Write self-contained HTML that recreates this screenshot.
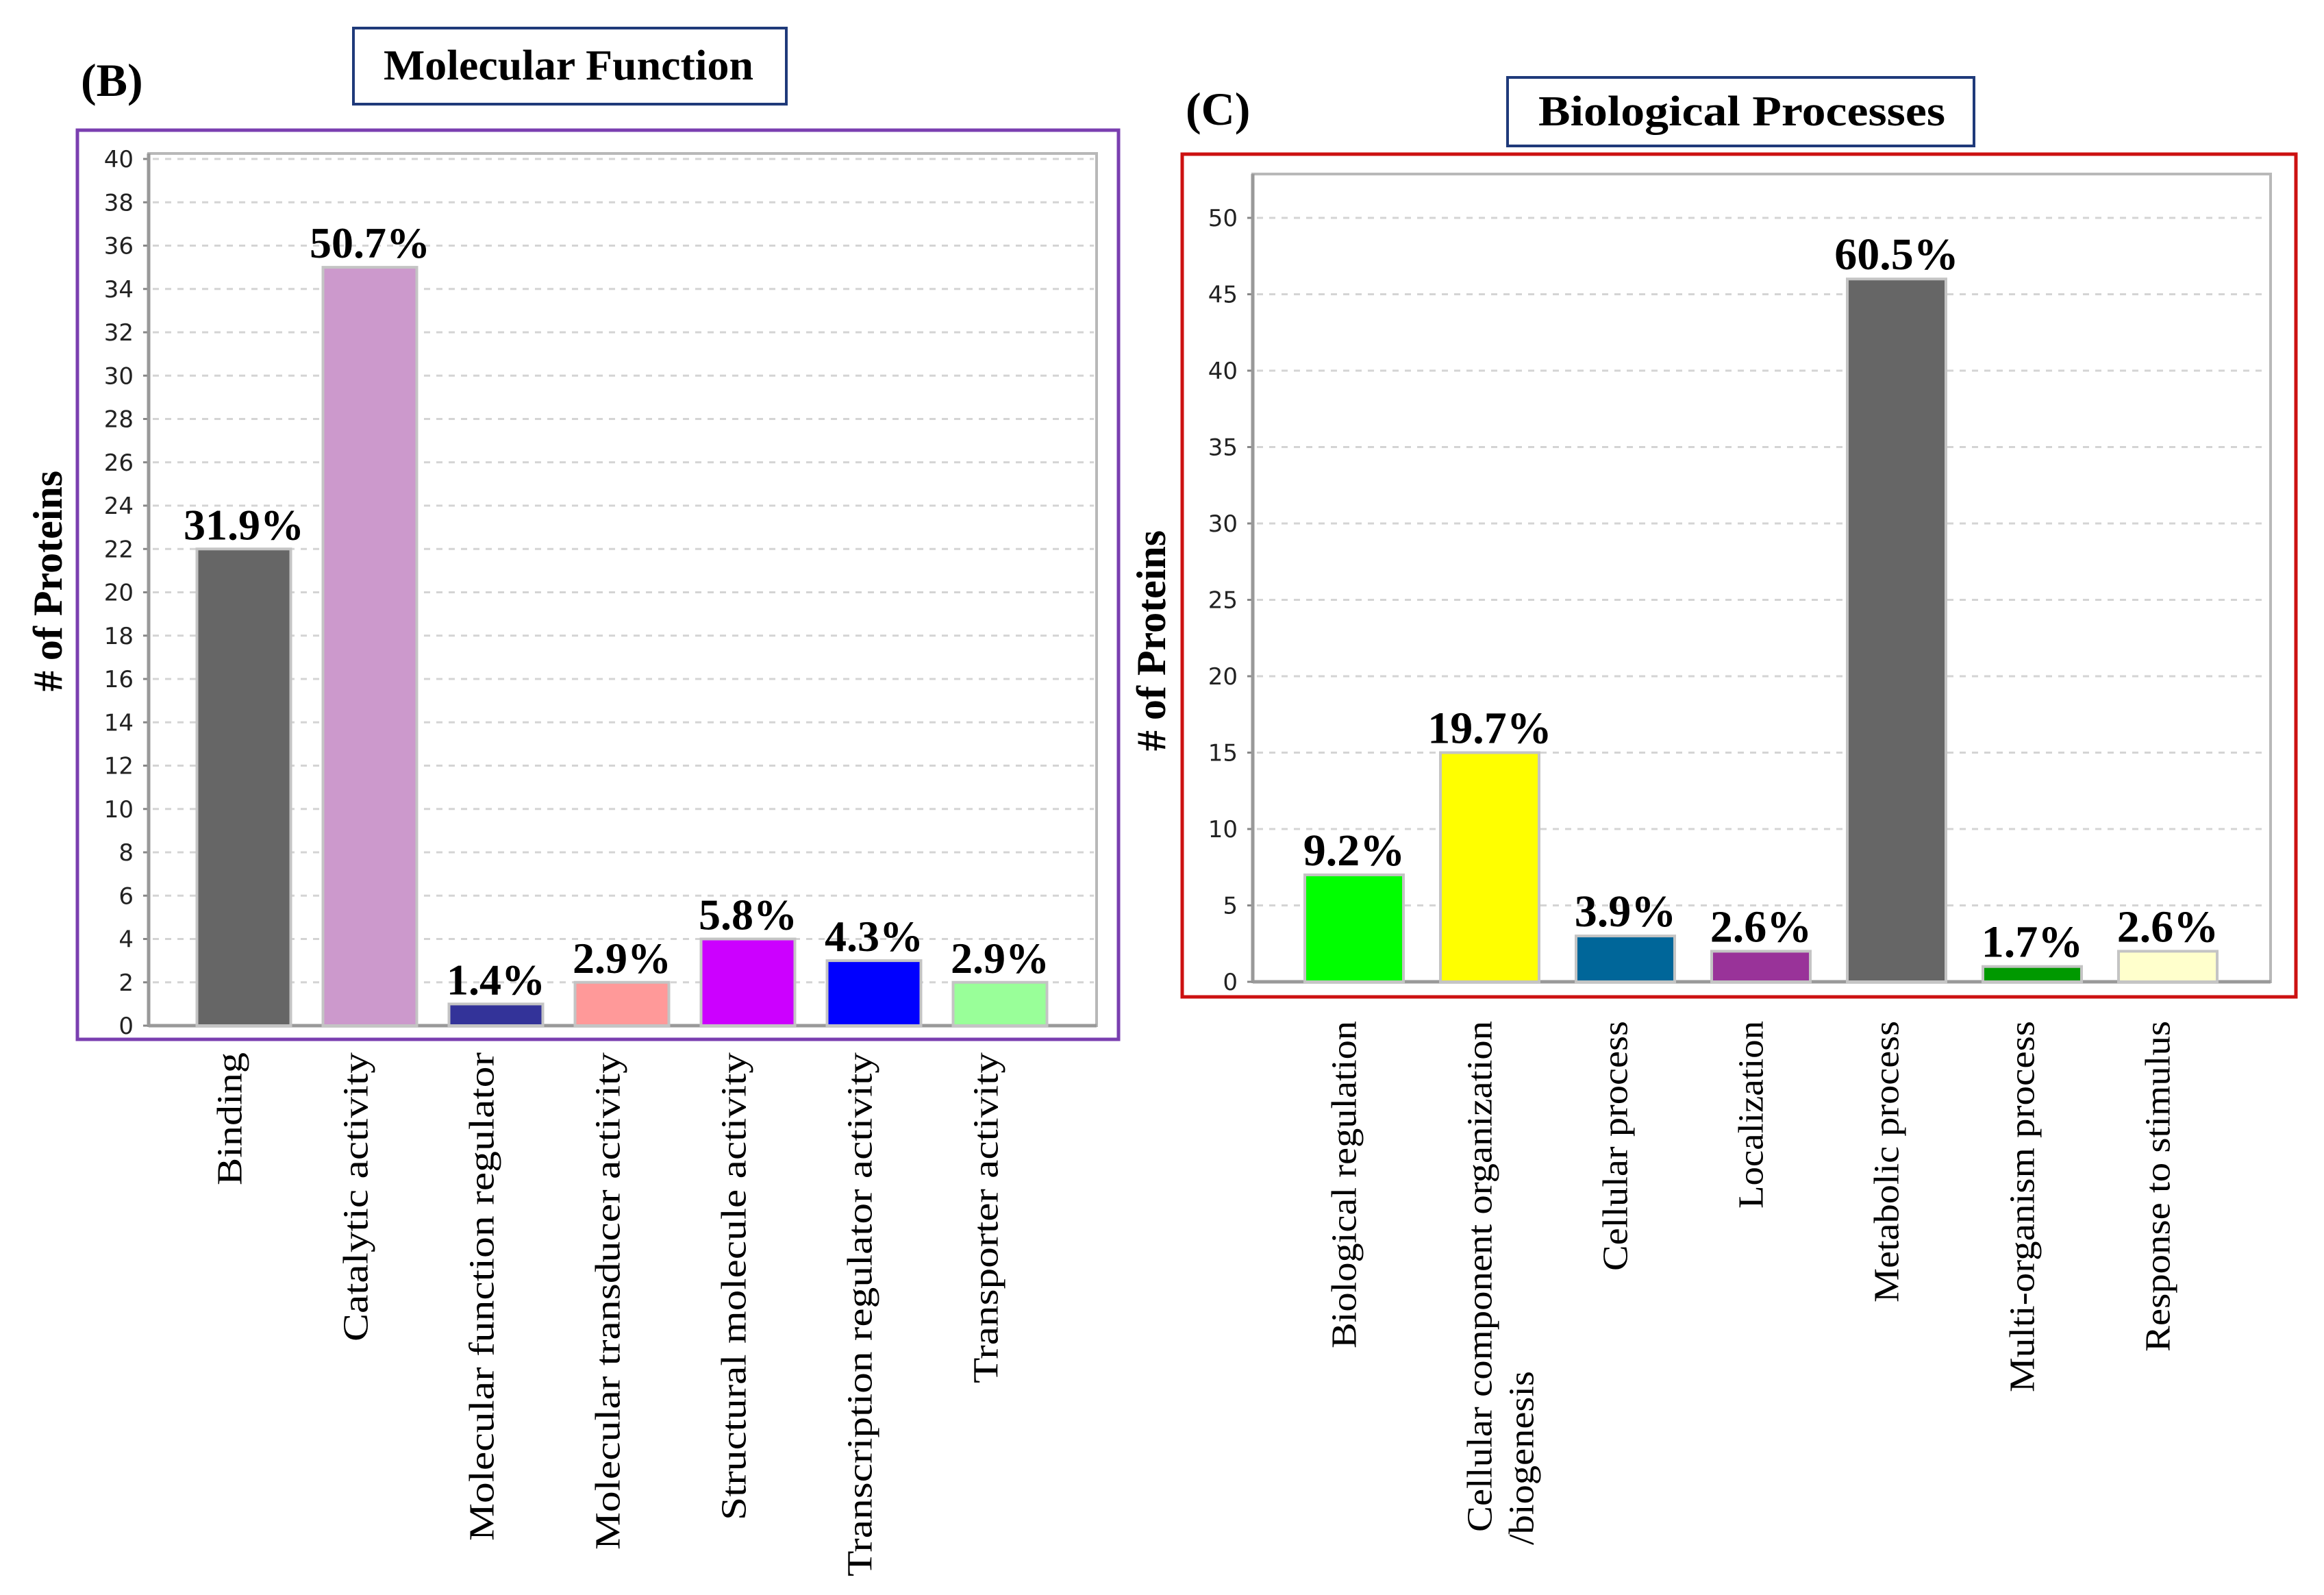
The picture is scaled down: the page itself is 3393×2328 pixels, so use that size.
<!DOCTYPE html>
<html><head><meta charset="utf-8"><style>
html,body{margin:0;padding:0;background:#fff;}
svg{display:block;}
</style></head><body>
<svg id="fig" width="3393" height="2328" viewBox="0 0 3393 2328" xmlns="http://www.w3.org/2000/svg">
  <rect x="0" y="0" width="3393" height="2328" fill="#fff"/>
  <!-- Panel B -->
  <text x="118" y="140" font-family="Liberation Serif, serif" font-weight="bold" font-size="68">(B)</text>
  <rect x="516" y="41" width="632" height="111" fill="#fff" stroke="#1f3a7a" stroke-width="4"/>
  <text x="830" y="116" text-anchor="middle" font-family="Liberation Serif, serif" font-weight="bold" font-size="62" textLength="540" lengthAdjust="spacingAndGlyphs">Molecular Function</text>
  <rect x="113" y="190" width="1520" height="1327" fill="none" stroke="#7a3fb0" stroke-width="5"/>
  <g id="chartB"></g>
  <!-- Panel C -->
  <text x="1731" y="182" font-family="Liberation Serif, serif" font-weight="bold" font-size="68">(C)</text>
  <rect x="2201" y="113" width="681" height="100" fill="#fff" stroke="#1f3a7a" stroke-width="4"/>
  <text x="2543" y="183" text-anchor="middle" font-family="Liberation Serif, serif" font-weight="bold" font-size="62" textLength="594" lengthAdjust="spacingAndGlyphs">Biological Processes</text>
  <rect x="1726" y="225" width="1626" height="1230" fill="none" stroke="#cc1111" stroke-width="5"/>
  <g id="chartC"></g>
</svg>
<script>
// ---- Panel B data ----
const catsB = ["Binding","Catalytic  activity","Molecular  function regulator","Molecular  transducer activity","Structural molecule  activity","Transcription  regulator activity","Transporter activity"];
const valsB = [22, 35, 1, 2, 4, 3, 2];
const pctB = ["31.9%","50.7%","1.4%","2.9%","5.8%","4.3%","2.9%"];
const colorsB = ["#666666","#cc99cc","#333399","#ff9999","#cc00ff","#0000ff","#99ff99"];
const ticksB = [0,2,4,6,8,10,12,14,16,18,20,22,24,26,28,30,32,34,36,38,40];
const labelLenB = [194, 422, 713, 726, 683, 765, 483];
// ---- Panel C data ----
const catsC = ["Biological  regulation","Cellular  component organization","Cellular  process","Localization","Metabolic  process","Multi-organism  process","Response to stimulus"];
const valsC = [7, 15, 3, 2, 46, 1, 2];
const pctC = ["9.2%","19.7%","3.9%","2.6%","60.5%","1.7%","2.6%"];
const colorsC = ["#00ff00","#ffff00","#006699","#993399","#666666","#009900","#ffffcc"];
const ticksC = [0,5,10,15,20,25,30,35,40,45,50];
const labelLenC = [478, 746, 365, 274, 411, 542, 483];

const NS = "http://www.w3.org/2000/svg";
function mk(parent, tag, attrs, text) {
  const el = document.createElementNS(NS, tag);
  for (const k in attrs) el.setAttribute(k, attrs[k]);
  if (text !== undefined) el.textContent = text;
  parent.appendChild(el);
  return el;
}

function drawChart(g, cfg) {
  const {left, right, top, bottom, firstCenter, step, barW,
         cats, vals, pcts, colors, ticks, lens, labelY, labelDx, tickFont, titleX, titleY, pctFont, prefix} = cfg;
  function yS(v){ return cfg.y0 - v * cfg.unit; }
  const xS = i => firstCenter + i * step;

  const frame = mk(g, "rect", {x:left, y:top, width:right-left, height:bottom-top, fill:"#fff", stroke:"#b8b8b8", "stroke-width":4});
  
  

  ticks.forEach(t => {
    const y = yS(t);
    if (t > 0) {
      const gl = mk(g, "line", {x1:left+6, x2:right-4, y1:y, y2:y, stroke:"#d4d4d4", "stroke-width":3, "stroke-dasharray":"9 9"});
      
      
    }
    const tk = mk(g, "line", {x1:left-8, x2:left, y1:y, y2:y, stroke:"#888", "stroke-width":3});
    
    
    const tl = mk(g, "text", {x:left-22, y:y+12, "text-anchor":"end", "font-family":"DejaVu Sans, Liberation Sans, sans-serif", "font-size":tickFont, fill:"#222"}, String(t));
    
    
  });
  const ax = mk(g, "line", {x1:left, x2:left, y1:top, y2:bottom, stroke:"#999", "stroke-width":5});
  
  
  const axx = mk(g, "line", {x1:left, x2:right, y1:bottom, y2:bottom, stroke:"#999", "stroke-width":5});
  
  

  vals.forEach((v, i) => {
    const cx = xS(i);
    const yt = yS(v);
    const b = mk(g, "rect", {x:cx-barW/2, y:yt, width:barW, height:bottom-yt, fill:colors[i], stroke:"#c4c4c4", "stroke-width":4});
    
    
    const p = mk(g, "text", {x:cx, y:yt-14, "text-anchor":"middle", "font-family":"Liberation Serif, serif", "font-weight":"bold", "font-size":pctFont}, pcts[i]);
    
    
  });

  cats.forEach((c, i) => {
    const lx = xS(i) + labelDx;
    const t = mk(g, "text", {x:0, y:0, transform:"translate(" + lx + "," + labelY + ") rotate(-90)", "text-anchor":"end", "dominant-baseline":"central", "font-family":"Liberation Serif, serif", "font-size":52, textLength:lens[i], lengthAdjust:"spacingAndGlyphs"}, c);
    
    
  });

  const yt = mk(g, "text", {x:0, y:0, transform:"translate(" + titleX + "," + titleY + ") rotate(-90)", "text-anchor":"middle", "dominant-baseline":"central", "font-family":"Liberation Serif, serif", "font-weight":"bold", "font-size":60}, "# of Proteins");
  
  
}

drawChart(document.getElementById("chartB"), {
  left:217, right:1601, top:224, bottom:1497, y0:1497, unit:(1497-232)/40,
  firstCenter:356, step:184, barW:137,
  cats:catsB, vals:valsB, pcts:pctB, colors:colorsB, ticks:ticksB, lens:labelLenB,
  labelY:1536, labelDx:-20, tickFont:34, titleX:70, titleY:848, pctFont:64, prefix:"mf"
});
drawChart(document.getElementById("chartC"), {
  left:1829, right:3315, top:254, bottom:1433, y0:1433, unit:(1433-318)/50,
  firstCenter:1977, step:198, barW:144,
  cats:catsC, vals:valsC, pcts:pctC, colors:colorsC, ticks:ticksC, lens:labelLenC,
  labelY:1490, labelDx:-14, tickFont:34, titleX:1681, titleY:935, pctFont:66, prefix:"bp"
});
(function(){
  const g = document.getElementById("chartC");
  const t = document.createElementNS(NS, "text");
  t.setAttribute("transform", "translate(2222,2255) rotate(-90)");
  t.setAttribute("text-anchor", "start");
  t.setAttribute("dominant-baseline", "central");
  t.setAttribute("font-family", "Liberation Serif, serif");
  t.setAttribute("font-size", "52");
  t.setAttribute("textLength", "254");
  t.setAttribute("lengthAdjust", "spacingAndGlyphs");
  t.textContent = "/biogenesis";
  
  
  g.appendChild(t);
})();
</script>
</body></html>
